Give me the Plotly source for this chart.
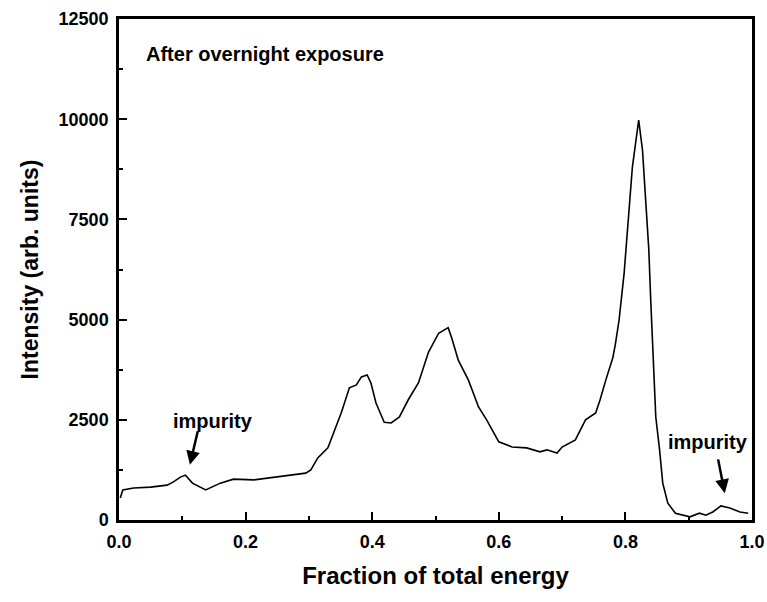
import plotly.graph_objects as go

energy_fraction = [0.002, 0.006, 0.023, 0.05, 0.076, 0.086, 0.097, 0.105, 0.116, 0.137, 0.16, 0.181,
                   0.213, 0.244, 0.271, 0.295, 0.303, 0.314, 0.33, 0.34, 0.351, 0.364, 0.375, 0.383,
                   0.392, 0.398, 0.406, 0.419, 0.43, 0.443, 0.457, 0.473, 0.489, 0.505, 0.52, 0.525,
                   0.536, 0.552, 0.568, 0.581, 0.6, 0.621, 0.644, 0.665, 0.676, 0.692, 0.7, 0.721,
                   0.737, 0.753, 0.76, 0.769, 0.78, 0.784, 0.79, 0.798, 0.803, 0.811, 0.821, 0.827,
                   0.832, 0.837, 0.84, 0.843, 0.846, 0.848, 0.854, 0.859, 0.867, 0.879, 0.902, 0.917,
                   0.927, 0.938, 0.951, 0.965, 0.981, 0.994]
intensity = [550, 750, 800, 820, 870, 950, 1070, 1120, 920, 750, 920, 1020,
             1000, 1070, 1120, 1170, 1250, 1550, 1800, 2200, 2670, 3300, 3370, 3570,
             3620, 3420, 2920, 2440, 2420, 2570, 3000, 3420, 4190, 4660, 4800, 4570,
             3990, 3490, 2820, 2490, 1950, 1820, 1800, 1700, 1750, 1670, 1820, 2000,
             2500, 2670, 3000, 3490, 4040, 4370, 4990, 6160, 7160, 8800, 9980, 9230,
             7980, 6740, 5490, 4320, 3420, 2570, 1750, 920, 420, 170, 80, 170,
             120, 200, 350, 300, 200, 170]

x_ticks = [0.0, 0.2, 0.4, 0.6, 0.8, 1.0]
x_tick_labels = ["0.0", "0.2", "0.4", "0.6", "0.8", "1.0"]
y_ticks = [0, 2500, 5000, 7500, 10000, 12500]
y_tick_labels = ["0", "2500", "5000", "7500", "10000", "12500"]

FONT = "Liberation Sans"

fig = go.Figure()
fig.add_trace(go.Scatter(x=energy_fraction, y=intensity, mode="lines",
                         line=dict(color="black", width=1.6), showlegend=False))

axis_common = dict(showline=True, linecolor="black", linewidth=2.5, mirror=True,
                   ticks="inside", ticklen=8, tickwidth=2, tickcolor="black",
                   showgrid=False, zeroline=False, automargin=False,
                   tickfont=dict(family=FONT, size=18, color="black", weight="bold"))

fig.update_xaxes(range=[0, 1], tickvals=x_ticks, ticktext=x_tick_labels,
                 ticklabelstandoff=4,
                 minor=dict(ticks="inside", ticklen=4, tickwidth=2, dtick=0.1, tickcolor="black"),
                 title=dict(text="<b>Fraction of total energy</b>",
                            font=dict(family=FONT, size=24, color="black"), standoff=16),
                 **axis_common)
fig.update_yaxes(range=[0, 12500], tickvals=y_ticks, ticktext=y_tick_labels,
                 ticklabelstandoff=4,
                 minor=dict(ticks="inside", ticklen=4, tickwidth=2, dtick=1250, tickcolor="black"),
                 title=dict(text="<b>Intensity (arb. units)</b>",
                            font=dict(family=FONT, size=23, color="black"), standoff=14),
                 **axis_common)

annots = [
    dict(x=0.04, y=11630, text="<b>After overnight exposure</b>", showarrow=False,
         xanchor="left", yanchor="middle", font=dict(family=FONT, size=20, color="black")),
    dict(x=0.148, y=2480, text="<b>impurity</b>", showarrow=False,
         font=dict(family=FONT, size=20, color="black")),
    dict(x=0.93, y=1950, text="<b>impurity</b>", showarrow=False,
         font=dict(family=FONT, size=20, color="black")),
    dict(x=0.112, y=1380, ax=0.125, ay=2250, axref="x", ayref="y", text="", showarrow=True,
         arrowhead=2, arrowsize=1.1, arrowwidth=2.5, arrowcolor="black"),
    dict(x=0.957, y=670, ax=0.946, ay=1550, axref="x", ayref="y", text="", showarrow=True,
         arrowhead=2, arrowsize=1.1, arrowwidth=2.5, arrowcolor="black"),
]
fig.update_layout(annotations=annots, width=767, height=602,
                  margin=dict(l=119, r=15, t=19, b=82),
                  paper_bgcolor="white", plot_bgcolor="white",
                  font=dict(family=FONT, color="black"))

fig.write_html("out.html")
